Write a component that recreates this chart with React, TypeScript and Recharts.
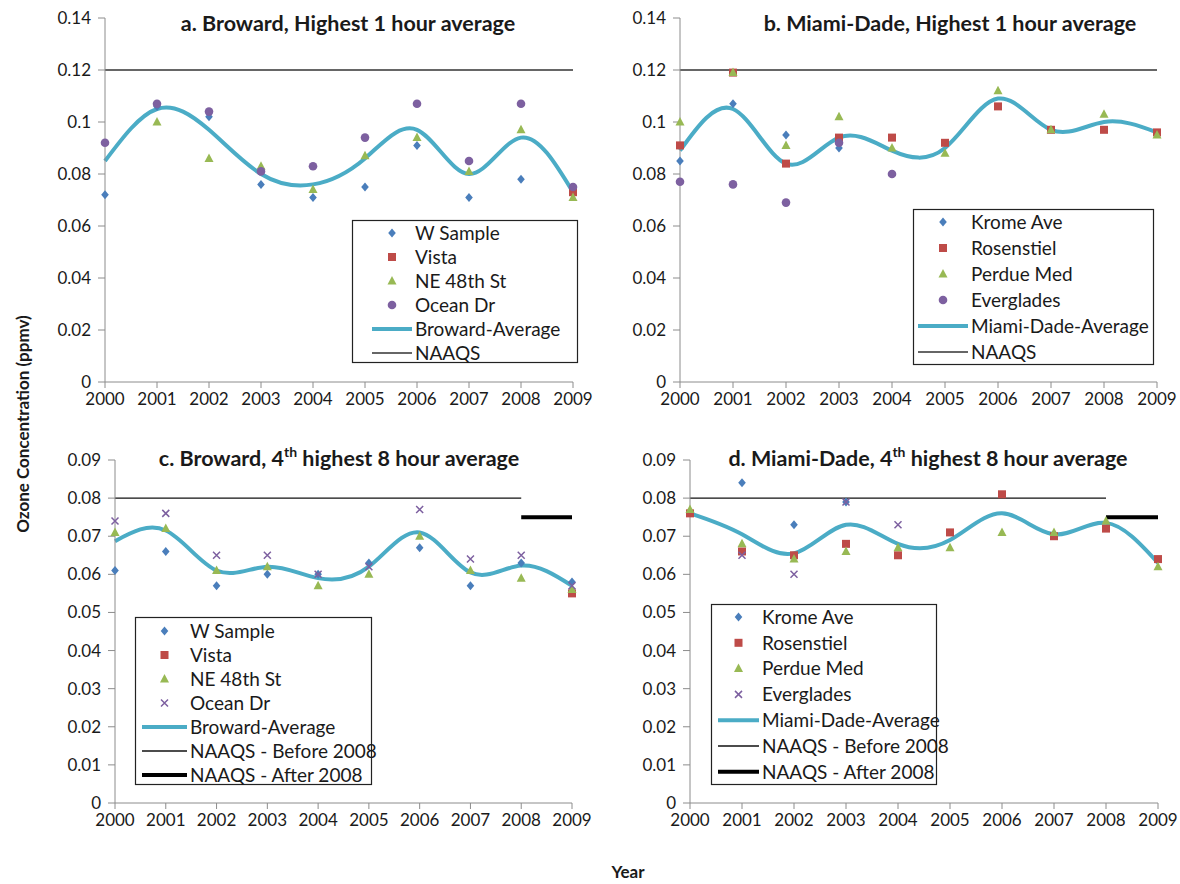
import { ComposedChart, Legend, Line, Scatter, XAxis, YAxis } from 'recharts'

const years = [2000, 2001, 2002, 2003, 2004, 2005, 2006, 2007, 2008, 2009]

// a. Broward, highest 1 hour average
const aWSample = [0.072, 0.106, 0.102, 0.076, 0.071, 0.075, 0.091, 0.071, 0.078, 0.074]
const aVista = [null, null, null, null, null, null, null, null, null, 0.073]
const aNE48 = [null, 0.1, 0.086, 0.083, 0.074, 0.087, 0.094, 0.081, 0.097, 0.071]
const aOceanDr = [0.092, 0.107, 0.104, 0.081, 0.083, 0.094, 0.107, 0.085, 0.107, 0.075]
const aAverage = [0.085, 0.105, 0.097, 0.08, 0.076, 0.086, 0.097, 0.08, 0.094, 0.073]
const aNaaqs = [0.12, 0.12, 0.12, 0.12, 0.12, 0.12, 0.12, 0.12, 0.12, 0.12]

// b. Miami-Dade, highest 1 hour average
const bKrome = [0.085, 0.107, 0.095, 0.09, null, null, null, null, null, null]
const bRosenstiel = [0.091, 0.119, 0.084, 0.094, 0.094, 0.092, 0.106, 0.097, 0.097, 0.096]
const bPerdue = [0.1, 0.119, 0.091, 0.102, 0.09, 0.088, 0.112, 0.097, 0.103, 0.095]
const bEverglades = [0.077, 0.076, 0.069, 0.092, 0.08, null, null, null, null, null]
const bAverage = [0.089, 0.105, 0.084, 0.094, 0.089, 0.09, 0.109, 0.097, 0.1, 0.096]
const bNaaqs = [0.12, 0.12, 0.12, 0.12, 0.12, 0.12, 0.12, 0.12, 0.12, 0.12]

// c. Broward, 4th highest 8 hour average
const cWSample = [0.061, 0.066, 0.057, 0.06, 0.06, 0.063, 0.067, 0.057, 0.063, 0.058]
const cVista = [null, null, null, null, null, null, null, null, null, 0.055]
const cNE48 = [0.071, 0.072, 0.061, 0.062, 0.057, 0.06, 0.07, 0.061, 0.059, 0.056]
const cOceanDr = [0.074, 0.076, 0.065, 0.065, 0.06, 0.062, 0.077, 0.064, 0.065, 0.057]
const cAverage = [0.0687, 0.0715, 0.061, 0.062, 0.059, 0.062, 0.071, 0.0605, 0.0623, 0.057]
const cNaaqsBefore = [0.08, 0.08, 0.08, 0.08, 0.08, 0.08, 0.08, 0.08, 0.08, null]
const cNaaqsAfter = [null, null, null, null, null, null, null, null, 0.075, 0.075]

// d. Miami-Dade, 4th highest 8 hour average
const dKrome = [null, 0.084, 0.073, 0.079, null, null, null, null, null, null]
const dRosenstiel = [0.076, 0.066, 0.065, 0.068, 0.065, 0.071, 0.081, 0.07, 0.072, 0.064]
const dPerdue = [0.077, 0.068, 0.064, 0.066, 0.067, 0.067, 0.071, 0.071, 0.074, 0.062]
const dEverglades = [null, 0.065, 0.06, 0.079, 0.073, null, null, null, null, null]
const dAverage = [0.076, 0.0705, 0.0655, 0.073, 0.068, 0.069, 0.076, 0.0705, 0.0735, 0.063]
const dNaaqsBefore = [0.08, 0.08, 0.08, 0.08, 0.08, 0.08, 0.08, 0.08, 0.08, null]
const dNaaqsAfter = [null, null, null, null, null, null, null, null, 0.075, 0.075]

const ticks1h = [0, 0.02, 0.04, 0.06, 0.08, 0.1, 0.12, 0.14]
const ticks8h = [0, 0.01, 0.02, 0.03, 0.04, 0.05, 0.06, 0.07, 0.08, 0.09]

const FONT = 'Lato, "Open Sans", sans-serif'
const AXIS = '#8c8c8c'
const TEXT = '#1a1a1a'
const BLUE = '#4a7ebb'
const RED = '#be4b48'
const GREEN = '#98b954'
const PURPLE = '#7d60a0'
const TEAL = '#4bacc6'
const TICK_FONT = 17

type Kind = 'diamond' | 'square' | 'triangle' | 'circle' | 'x' | 'line'
type Series = { key: string; label: string; kind: Kind; color: string; width?: number; curve?: 'natural' | 'linear' }

const buildRows = (cols: Record<string, (number | null)[]>) =>
  years.map((year, i) => {
    const r: Record<string, number | null> = { year }
    for (const k of Object.keys(cols)) r[k] = cols[k][i]
    return r
  })

function marker(kind: Kind, color: string, cx: number, cy: number) {
  switch (kind) {
    case 'diamond':
      return <path d={`M${cx},${cy - 4.5}L${cx + 3.8},${cy}L${cx},${cy + 4.5}L${cx - 3.8},${cy}Z`} fill={color} />
    case 'square':
      return <rect x={cx - 4} y={cy - 4} width={8} height={8} fill={color} />
    case 'triangle':
      return <path d={`M${cx},${cy - 5}L${cx + 4.5},${cy + 3.5}L${cx - 4.5},${cy + 3.5}Z`} fill={color} />
    case 'circle':
      return <circle cx={cx} cy={cy} r={4.3} fill={color} />
    case 'x':
      return (
        <path
          d={`M${cx - 3.5},${cy - 3.5}L${cx + 3.5},${cy + 3.5}M${cx + 3.5},${cy - 3.5}L${cx - 3.5},${cy + 3.5}`}
          stroke={color}
          strokeWidth={1.5}
        />
      )
    default:
      return null
  }
}

type LegendGeom = {
  left: number
  top: number
  width: number
  height: number
  first: number
  gap: number
  lineFrom: number
  lineTo: number
  textX: number
}

function LegendBox({ items, g }: { items: Series[]; g: LegendGeom }) {
  const mx = (g.lineFrom + g.lineTo) / 2
  return (
    <svg width={g.width} height={g.height} style={{ display: 'block', overflow: 'visible' }}>
      <rect x={0.5} y={0.5} width={g.width - 1} height={g.height - 1} fill="#fff" stroke="#222" strokeWidth={1.2} />
      {items.map((s, i) => {
        const y = g.first + i * g.gap
        return (
          <g key={s.key}>
            {s.kind === 'line' ? (
              <line x1={g.lineFrom} x2={g.lineTo} y1={y} y2={y} stroke={s.color} strokeWidth={s.width} />
            ) : (
              marker(s.kind, s.color, mx, y)
            )}
            <text x={g.textX} y={y} dy="0.36em" fontFamily={FONT} fontSize={19} fill={TEXT}>
              {s.label}
            </text>
          </g>
        )
      })}
    </svg>
  )
}

interface PanelProps {
  left: number
  top: number
  width: number
  height: number
  margin: { top: number; right: number; bottom: number; left: number }
  rows: Record<string, number | null>[]
  yMax: number
  yTicks: number[]
  series: Series[]
  legend: LegendGeom
}

function Panel({ left, top, width, height, margin, rows, yMax, yTicks, series, legend }: PanelProps) {
  const lines = series.filter((s) => s.kind === 'line')
  const points = series.filter((s) => s.kind !== 'line')
  return (
    <div style={{ position: 'absolute', left, top }}>
      <ComposedChart width={width} height={height} data={rows} margin={margin}>
        <XAxis
          type="number"
          dataKey="year"
          domain={[2000, 2009]}
          ticks={years}
          interval={0}
          stroke={AXIS}
          tickSize={6}
          tickMargin={5}
          height={30}
          tick={{ fill: TEXT, fontSize: TICK_FONT, fontFamily: FONT }}
        />
        <YAxis
          type="number"
          domain={[0, yMax]}
          ticks={yTicks}
          interval={0}
          width={60}
          stroke={AXIS}
          tickSize={7}
          tickMargin={7}
          allowDataOverflow
          tickFormatter={(v: number) => (v === 0 ? '0' : String(v))}
          tick={{ fill: TEXT, fontSize: TICK_FONT, fontFamily: FONT }}
        />
        {lines.map((s) => (
          <Line
            key={s.key}
            dataKey={s.key}
            type={s.curve ?? 'linear'}
            stroke={s.color}
            strokeWidth={s.width}
            dot={false}
            activeDot={false}
            isAnimationActive={false}
          />
        ))}
        {points.map((s) => (
          <Scatter
            key={s.key}
            dataKey={s.key}
            data={rows.filter((r) => r[s.key] != null)}
            isAnimationActive={false}
            shape={(p: any) => marker(s.kind, s.color, p.cx, p.cy)}
          />
        ))}
        <Legend
          layout="vertical"
          align="center"
          verticalAlign="middle"
          wrapperStyle={{ left: legend.left, top: legend.top, width: legend.width, height: legend.height }}
          content={() => <LegendBox items={[...points, ...lines]} g={legend} />}
        />
      </ComposedChart>
    </div>
  )
}

const rowsA = buildRows({ wSample: aWSample, vista: aVista, ne48: aNE48, ocean: aOceanDr, avg: aAverage, naaqs: aNaaqs })
const rowsB = buildRows({ krome: bKrome, rosen: bRosenstiel, perdue: bPerdue, ever: bEverglades, avg: bAverage, naaqs: bNaaqs })
const rowsC = buildRows({
  wSample: cWSample, vista: cVista, ne48: cNE48, ocean: cOceanDr, avg: cAverage, before: cNaaqsBefore, after: cNaaqsAfter,
})
const rowsD = buildRows({
  krome: dKrome, rosen: dRosenstiel, perdue: dPerdue, ever: dEverglades, avg: dAverage, before: dNaaqsBefore, after: dNaaqsAfter,
})

const titleStyle = (x: number, y: number): React.CSSProperties => ({
  position: 'absolute',
  left: x,
  top: y,
  transform: 'translate(-50%, -50%)',
  whiteSpace: 'nowrap',
  fontFamily: FONT,
  fontWeight: 700,
  fontSize: 21.5,
  color: TEXT,
})

export default function App() {
  return (
    <div style={{ position: 'absolute', left: 0, top: 0, width: 1180, height: 884, background: '#fff', fontFamily: FONT }}>
      <Panel
        left={0}
        top={0}
        width={600}
        height={420}
        margin={{ top: 18, right: 27, bottom: 8, left: 45 }}
        rows={rowsA}
        yMax={0.14}
        yTicks={ticks1h}
        series={[
          { key: 'wSample', label: 'W Sample', kind: 'diamond', color: BLUE },
          { key: 'vista', label: 'Vista', kind: 'square', color: RED },
          { key: 'ne48', label: 'NE 48th St', kind: 'triangle', color: GREEN },
          { key: 'ocean', label: 'Ocean Dr', kind: 'circle', color: PURPLE },
          { key: 'avg', label: 'Broward-Average', kind: 'line', color: TEAL, width: 4, curve: 'natural' },
          { key: 'naaqs', label: 'NAAQS', kind: 'line', color: '#333', width: 1.6 },
        ]}
        legend={{ left: 352, top: 220, width: 226, height: 143, first: 13, gap: 24, lineFrom: 20, lineTo: 60, textX: 63 }}
      />
      <Panel
        left={590}
        top={0}
        width={590}
        height={420}
        margin={{ top: 18, right: 23, bottom: 8, left: 30 }}
        rows={rowsB}
        yMax={0.14}
        yTicks={ticks1h}
        series={[
          { key: 'krome', label: 'Krome Ave', kind: 'diamond', color: BLUE },
          { key: 'rosen', label: 'Rosenstiel', kind: 'square', color: RED },
          { key: 'perdue', label: 'Perdue Med', kind: 'triangle', color: GREEN },
          { key: 'ever', label: 'Everglades', kind: 'circle', color: PURPLE },
          { key: 'avg', label: 'Miami-Dade-Average', kind: 'line', color: TEAL, width: 4, curve: 'natural' },
          { key: 'naaqs', label: 'NAAQS', kind: 'line', color: '#333', width: 1.6 },
        ]}
        legend={{ left: 323, top: 209, width: 241, height: 156, first: 13, gap: 26, lineFrom: 5, lineTo: 55, textX: 58 }}
      />
      <Panel
        left={0}
        top={440}
        width={600}
        height={400}
        margin={{ top: 20, right: 28, bottom: 7, left: 55 }}
        rows={rowsC}
        yMax={0.09}
        yTicks={ticks8h}
        series={[
          { key: 'wSample', label: 'W Sample', kind: 'diamond', color: BLUE },
          { key: 'vista', label: 'Vista', kind: 'square', color: RED },
          { key: 'ne48', label: 'NE 48th St', kind: 'triangle', color: GREEN },
          { key: 'ocean', label: 'Ocean Dr', kind: 'x', color: PURPLE },
          { key: 'avg', label: 'Broward-Average', kind: 'line', color: TEAL, width: 4, curve: 'natural' },
          { key: 'before', label: 'NAAQS - Before 2008', kind: 'line', color: '#111', width: 1.3 },
          { key: 'after', label: 'NAAQS - After 2008', kind: 'line', color: '#000', width: 4 },
        ]}
        legend={{ left: 135, top: 177, width: 237, height: 168, first: 14, gap: 24, lineFrom: 7, lineTo: 52, textX: 55 }}
      />
      <Panel
        left={590}
        top={440}
        width={590}
        height={400}
        margin={{ top: 20, right: 22, bottom: 7, left: 40 }}
        rows={rowsD}
        yMax={0.09}
        yTicks={ticks8h}
        series={[
          { key: 'krome', label: 'Krome Ave', kind: 'diamond', color: BLUE },
          { key: 'rosen', label: 'Rosenstiel', kind: 'square', color: RED },
          { key: 'perdue', label: 'Perdue Med', kind: 'triangle', color: GREEN },
          { key: 'ever', label: 'Everglades', kind: 'x', color: PURPLE },
          { key: 'avg', label: 'Miami-Dade-Average', kind: 'line', color: TEAL, width: 4, curve: 'natural' },
          { key: 'before', label: 'NAAQS - Before 2008', kind: 'line', color: '#111', width: 1.3 },
          { key: 'after', label: 'NAAQS - After 2008', kind: 'line', color: '#000', width: 4 },
        ]}
        legend={{ left: 121, top: 164, width: 226, height: 181, first: 13, gap: 25.8, lineFrom: 7, lineTo: 48, textX: 51 }}
      />
      <div style={titleStyle(348, 23)}>a. Broward, Highest 1 hour average</div>
      <div style={titleStyle(950, 23)}>b. Miami-Dade, Highest 1 hour average</div>
      <div style={titleStyle(339, 457)}>
        c. Broward, 4<sup style={{ fontSize: 14 }}>th</sup> highest 8 hour average
      </div>
      <div style={titleStyle(928, 457)}>
        d. Miami-Dade, 4<sup style={{ fontSize: 14 }}>th</sup> highest 8 hour average
      </div>
      <div
        style={{
          position: 'absolute',
          left: 22,
          top: 424,
          transform: 'translate(-50%, -50%) rotate(-90deg)',
          whiteSpace: 'nowrap',
          fontWeight: 700,
          fontSize: 17,
          color: TEXT,
        }}
      >
        Ozone Concentration (ppmv)
      </div>
      <div
        style={{
          position: 'absolute',
          left: 628,
          top: 872,
          transform: 'translate(-50%, -50%)',
          fontWeight: 700,
          fontSize: 17,
          lineHeight: '20px',
          color: TEXT,
        }}
      >
        Year
      </div>
    </div>
  )
}
